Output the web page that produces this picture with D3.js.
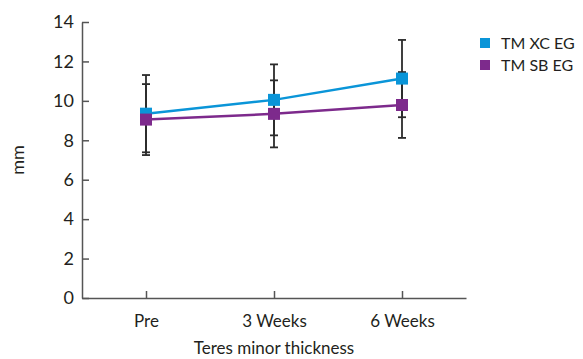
<!DOCTYPE html>
<html>
<head>
<meta charset="utf-8">
<script src="https://cdn.jsdelivr.net/npm/d3@7"></script>
<style>
  body { margin: 0; background: #fff; }
  svg text { font-family: Lato, "Liberation Sans", sans-serif; fill: #231f20; }
  .axis path, .axis line { stroke: #555; stroke-width: 1.5; }
</style>
</head>
<body>
<div id="chart"></div>
<script>
// data
const periods = ['Pre', '3 Weeks', '6 Weeks'];
const xcMean = [9.35, 10.05, 11.13];
const xcSd = [1.96, 1.8, 1.96];
const sbMean = [9.05, 9.34, 9.79];
const sbSd = [1.8, 1.7, 1.67];
const yTicks = [0, 2, 4, 6, 8, 10, 12, 14];
const seriesNames = ['TM XC EG', 'TM SB EG'];
const seriesColors = ['#0a95d8', '#7d2a8c'];

const width = 583, height = 359;
const margin = {t: 22, r: 117, b: 61, l: 82};

const svg = d3.select('#chart').append('svg')
  .attr('width', width)
  .attr('height', height);

const scaleX = d3.scalePoint()
  .domain(periods)
  .range([margin.l, width - margin.r])
  .padding(0.5);
const scaleY = d3.scaleLinear()
  .domain([0, 14])
  .range([height - margin.b, margin.t]);

//Axes, ticks point inward
const axisY = d3.axisLeft(scaleY)
  .tickValues(yTicks)
  .tickSize(-7)
  .tickSizeOuter(0)
  .tickPadding(8);
const axisX = d3.axisBottom(scaleX)
  .tickSize(-7)
  .tickSizeOuter(0)
  .tickPadding(17);

svg.append('g')
  .attr('class', 'axis axis-y')
  .attr('transform', `translate(${margin.l},0)`)
  .call(axisY)
  .selectAll('text').style('font-size', '18px');

svg.append('g')
  .attr('class', 'axis axis-x')
  .attr('transform', `translate(0,${height - margin.b})`)
  .call(axisX)
  .selectAll('text').style('font-size', '17px');

svg.append('text')
  .attr('x', scaleX('3 Weeks'))
  .attr('y', 354)
  .attr('text-anchor', 'middle')
  .style('font-size', '17px')
  .text('Teres minor thickness');

svg.append('text')
  .attr('transform', 'translate(24,160) rotate(-90)')
  .attr('text-anchor', 'middle')
  .style('font-size', '18px')
  .text('mm');

const series = [
  {name: seriesNames[0], color: seriesColors[0], mean: xcMean, sd: xcSd},
  {name: seriesNames[1], color: seriesColors[1], mean: sbMean, sd: sbSd}
];

//Error bars
const bars = svg.append('g').attr('class', 'error-bars');
series.forEach(s => {
  periods.forEach((p, i) => {
    const x = scaleX(p);
    const lo = scaleY(s.mean[i] - s.sd[i]);
    const hi = scaleY(s.mean[i] + s.sd[i]);
    bars.append('line')
      .attr('x1', x).attr('x2', x).attr('y1', lo).attr('y2', hi);
    [lo, hi].forEach(y => {
      bars.append('line')
        .attr('x1', x - 4).attr('x2', x + 4).attr('y1', y).attr('y2', y);
    });
  });
});
bars.selectAll('line')
  .attr('stroke', '#2b2b2b')
  .attr('stroke-width', 1.8);

//Lines and square markers
const line = d3.line()
  .x((d, i) => scaleX(periods[i]))
  .y(d => scaleY(d));

series.forEach(s => {
  svg.append('path')
    .datum(s.mean)
    .attr('d', line)
    .attr('fill', 'none')
    .attr('stroke', s.color)
    .attr('stroke-width', 2.5);
  svg.append('g')
    .selectAll('rect')
    .data(s.mean)
    .enter().append('rect')
    .attr('x', (d, i) => scaleX(periods[i]) - 6)
    .attr('y', d => scaleY(d) - 6)
    .attr('width', 12)
    .attr('height', 12)
    .attr('fill', s.color);
});

//Legend
const legend = svg.append('g').attr('class', 'legend')
  .selectAll('g')
  .data(series)
  .enter().append('g')
  .attr('transform', (d, i) => `translate(480,${43 + i * 22})`);
legend.append('rect')
  .attr('x', 0).attr('y', -5)
  .attr('width', 10).attr('height', 10)
  .attr('fill', d => d.color);
legend.append('text')
  .attr('x', 21).attr('y', 6)
  .style('font-size', '16px')
  .text(d => d.name);
</script>
</body>
</html>
